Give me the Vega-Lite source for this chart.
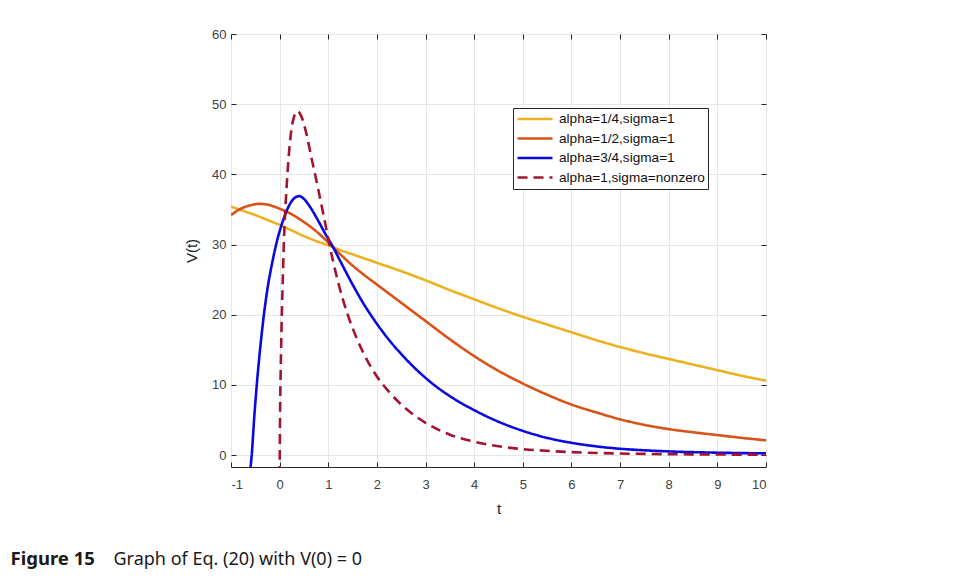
{
  "$schema": "https://vega.github.io/schema/vega-lite/v6.json",
  "width": 535,
  "height": 433,
  "autosize": {"type": "none"},
  "padding": {"left": 231, "top": 34, "right": 190, "bottom": 120},
  "background": "white",
  "config": {
    "view": {"stroke": "#262626", "strokeWidth": 1},
    "axis": {
      "labelFont": "Liberation Sans",
      "titleFont": "Liberation Sans",
      "labelFontSize": 13,
      "labelColor": "#404040",
      "titleColor": "#262626",
      "titleFontSize": 15,
      "titleFontWeight": "normal",
      "gridColor": "#e6e6e6",
      "tickColor": "#262626",
      "domainColor": "#262626"
    }
  },
  "data": {
    "values": [
      {"s": "alpha=1/4,sigma=1", "t": -1, "v": 35.4},
      {"s": "alpha=1/4,sigma=1", "t": -0.75, "v": 34.8},
      {"s": "alpha=1/4,sigma=1", "t": -0.5, "v": 34.2},
      {"s": "alpha=1/4,sigma=1", "t": -0.25, "v": 33.5},
      {"s": "alpha=1/4,sigma=1", "t": 0, "v": 32.8},
      {"s": "alpha=1/4,sigma=1", "t": 0.25, "v": 32.0},
      {"s": "alpha=1/4,sigma=1", "t": 0.5, "v": 31.2},
      {"s": "alpha=1/4,sigma=1", "t": 0.75, "v": 30.5},
      {"s": "alpha=1/4,sigma=1", "t": 1, "v": 29.9},
      {"s": "alpha=1/4,sigma=1", "t": 1.25, "v": 29.2},
      {"s": "alpha=1/4,sigma=1", "t": 1.5, "v": 28.6},
      {"s": "alpha=1/4,sigma=1", "t": 2, "v": 27.4},
      {"s": "alpha=1/4,sigma=1", "t": 2.5, "v": 26.2},
      {"s": "alpha=1/4,sigma=1", "t": 3, "v": 24.9},
      {"s": "alpha=1/4,sigma=1", "t": 3.5, "v": 23.5},
      {"s": "alpha=1/4,sigma=1", "t": 4, "v": 22.2},
      {"s": "alpha=1/4,sigma=1", "t": 4.5, "v": 20.9},
      {"s": "alpha=1/4,sigma=1", "t": 5, "v": 19.7},
      {"s": "alpha=1/4,sigma=1", "t": 5.5, "v": 18.6},
      {"s": "alpha=1/4,sigma=1", "t": 6, "v": 17.5},
      {"s": "alpha=1/4,sigma=1", "t": 6.5, "v": 16.4},
      {"s": "alpha=1/4,sigma=1", "t": 7, "v": 15.4},
      {"s": "alpha=1/4,sigma=1", "t": 7.5, "v": 14.5},
      {"s": "alpha=1/4,sigma=1", "t": 8, "v": 13.7},
      {"s": "alpha=1/4,sigma=1", "t": 8.5, "v": 12.9},
      {"s": "alpha=1/4,sigma=1", "t": 9, "v": 12.1},
      {"s": "alpha=1/4,sigma=1", "t": 9.5, "v": 11.3},
      {"s": "alpha=1/4,sigma=1", "t": 10, "v": 10.6},

      {"s": "alpha=1/2,sigma=1", "t": -1, "v": 34.2},
      {"s": "alpha=1/2,sigma=1", "t": -0.8, "v": 35.1},
      {"s": "alpha=1/2,sigma=1", "t": -0.6, "v": 35.6},
      {"s": "alpha=1/2,sigma=1", "t": -0.4, "v": 35.8},
      {"s": "alpha=1/2,sigma=1", "t": -0.2, "v": 35.6},
      {"s": "alpha=1/2,sigma=1", "t": 0, "v": 35.1},
      {"s": "alpha=1/2,sigma=1", "t": 0.25, "v": 34.3},
      {"s": "alpha=1/2,sigma=1", "t": 0.5, "v": 33.2},
      {"s": "alpha=1/2,sigma=1", "t": 0.75, "v": 31.9},
      {"s": "alpha=1/2,sigma=1", "t": 1, "v": 30.3},
      {"s": "alpha=1/2,sigma=1", "t": 1.25, "v": 28.6},
      {"s": "alpha=1/2,sigma=1", "t": 1.5, "v": 27.0},
      {"s": "alpha=1/2,sigma=1", "t": 1.75, "v": 25.6},
      {"s": "alpha=1/2,sigma=1", "t": 2, "v": 24.3},
      {"s": "alpha=1/2,sigma=1", "t": 2.5, "v": 21.7},
      {"s": "alpha=1/2,sigma=1", "t": 3, "v": 19.1},
      {"s": "alpha=1/2,sigma=1", "t": 3.5, "v": 16.5},
      {"s": "alpha=1/2,sigma=1", "t": 4, "v": 14.1},
      {"s": "alpha=1/2,sigma=1", "t": 4.5, "v": 12.0},
      {"s": "alpha=1/2,sigma=1", "t": 5, "v": 10.2},
      {"s": "alpha=1/2,sigma=1", "t": 5.5, "v": 8.6},
      {"s": "alpha=1/2,sigma=1", "t": 6, "v": 7.2},
      {"s": "alpha=1/2,sigma=1", "t": 6.5, "v": 6.1},
      {"s": "alpha=1/2,sigma=1", "t": 7, "v": 5.1},
      {"s": "alpha=1/2,sigma=1", "t": 7.5, "v": 4.3},
      {"s": "alpha=1/2,sigma=1", "t": 8, "v": 3.7},
      {"s": "alpha=1/2,sigma=1", "t": 8.5, "v": 3.25},
      {"s": "alpha=1/2,sigma=1", "t": 9, "v": 2.85},
      {"s": "alpha=1/2,sigma=1", "t": 9.5, "v": 2.45},
      {"s": "alpha=1/2,sigma=1", "t": 10, "v": 2.1},

      {"s": "alpha=3/4,sigma=1", "t": -0.62, "v": -3},
      {"s": "alpha=3/4,sigma=1", "t": -0.574, "v": 0},
      {"s": "alpha=3/4,sigma=1", "t": -0.52, "v": 5.6},
      {"s": "alpha=3/4,sigma=1", "t": -0.47, "v": 10},
      {"s": "alpha=3/4,sigma=1", "t": -0.4, "v": 15.2},
      {"s": "alpha=3/4,sigma=1", "t": -0.327, "v": 19.8},
      {"s": "alpha=3/4,sigma=1", "t": -0.25, "v": 23.7},
      {"s": "alpha=3/4,sigma=1", "t": -0.15, "v": 27.5},
      {"s": "alpha=3/4,sigma=1", "t": -0.072, "v": 30},
      {"s": "alpha=3/4,sigma=1", "t": 0, "v": 31.9},
      {"s": "alpha=3/4,sigma=1", "t": 0.064, "v": 33.3},
      {"s": "alpha=3/4,sigma=1", "t": 0.15, "v": 34.9},
      {"s": "alpha=3/4,sigma=1", "t": 0.3, "v": 36.6},
      {"s": "alpha=3/4,sigma=1", "t": 0.4, "v": 36.9},
      {"s": "alpha=3/4,sigma=1", "t": 0.5, "v": 36.5},
      {"s": "alpha=3/4,sigma=1", "t": 0.65, "v": 35.1},
      {"s": "alpha=3/4,sigma=1", "t": 0.8, "v": 33.3},
      {"s": "alpha=3/4,sigma=1", "t": 0.95, "v": 31.4},
      {"s": "alpha=3/4,sigma=1", "t": 1.1, "v": 29.6},
      {"s": "alpha=3/4,sigma=1", "t": 1.25, "v": 27.6},
      {"s": "alpha=3/4,sigma=1", "t": 1.5, "v": 24.3},
      {"s": "alpha=3/4,sigma=1", "t": 1.75, "v": 21.3},
      {"s": "alpha=3/4,sigma=1", "t": 2, "v": 18.7},
      {"s": "alpha=3/4,sigma=1", "t": 2.25, "v": 16.4},
      {"s": "alpha=3/4,sigma=1", "t": 2.5, "v": 14.4},
      {"s": "alpha=3/4,sigma=1", "t": 2.75, "v": 12.6},
      {"s": "alpha=3/4,sigma=1", "t": 3, "v": 11.0},
      {"s": "alpha=3/4,sigma=1", "t": 3.25, "v": 9.6},
      {"s": "alpha=3/4,sigma=1", "t": 3.5, "v": 8.4},
      {"s": "alpha=3/4,sigma=1", "t": 4, "v": 6.4},
      {"s": "alpha=3/4,sigma=1", "t": 4.5, "v": 4.75},
      {"s": "alpha=3/4,sigma=1", "t": 5, "v": 3.45},
      {"s": "alpha=3/4,sigma=1", "t": 5.5, "v": 2.45},
      {"s": "alpha=3/4,sigma=1", "t": 6, "v": 1.75},
      {"s": "alpha=3/4,sigma=1", "t": 6.5, "v": 1.25},
      {"s": "alpha=3/4,sigma=1", "t": 7, "v": 0.9},
      {"s": "alpha=3/4,sigma=1", "t": 7.5, "v": 0.68},
      {"s": "alpha=3/4,sigma=1", "t": 8, "v": 0.52},
      {"s": "alpha=3/4,sigma=1", "t": 9, "v": 0.34},
      {"s": "alpha=3/4,sigma=1", "t": 10, "v": 0.24},

      {"s": "alpha=1,sigma=nonzero", "t": 0, "v": -3},
      {"s": "alpha=1,sigma=nonzero", "t": 0.008, "v": 5},
      {"s": "alpha=1,sigma=nonzero", "t": 0.017, "v": 10},
      {"s": "alpha=1,sigma=nonzero", "t": 0.03, "v": 15},
      {"s": "alpha=1,sigma=nonzero", "t": 0.045, "v": 20},
      {"s": "alpha=1,sigma=nonzero", "t": 0.065, "v": 25},
      {"s": "alpha=1,sigma=nonzero", "t": 0.085, "v": 30},
      {"s": "alpha=1,sigma=nonzero", "t": 0.11, "v": 34},
      {"s": "alpha=1,sigma=nonzero", "t": 0.14, "v": 37.8},
      {"s": "alpha=1,sigma=nonzero", "t": 0.18, "v": 42},
      {"s": "alpha=1,sigma=nonzero", "t": 0.24, "v": 46.3},
      {"s": "alpha=1,sigma=nonzero", "t": 0.3, "v": 48.3},
      {"s": "alpha=1,sigma=nonzero", "t": 0.37, "v": 49.0},
      {"s": "alpha=1,sigma=nonzero", "t": 0.45, "v": 48.2},
      {"s": "alpha=1,sigma=nonzero", "t": 0.55, "v": 45.8},
      {"s": "alpha=1,sigma=nonzero", "t": 0.65, "v": 42.5},
      {"s": "alpha=1,sigma=nonzero", "t": 0.79, "v": 38.0},
      {"s": "alpha=1,sigma=nonzero", "t": 0.92, "v": 33.6},
      {"s": "alpha=1,sigma=nonzero", "t": 1, "v": 30.8},
      {"s": "alpha=1,sigma=nonzero", "t": 1.2, "v": 24.7},
      {"s": "alpha=1,sigma=nonzero", "t": 1.4, "v": 20},
      {"s": "alpha=1,sigma=nonzero", "t": 1.6, "v": 16.4},
      {"s": "alpha=1,sigma=nonzero", "t": 1.8, "v": 13.5},
      {"s": "alpha=1,sigma=nonzero", "t": 2, "v": 11.2},
      {"s": "alpha=1,sigma=nonzero", "t": 2.25, "v": 9.0},
      {"s": "alpha=1,sigma=nonzero", "t": 2.5, "v": 7.2},
      {"s": "alpha=1,sigma=nonzero", "t": 3, "v": 4.6},
      {"s": "alpha=1,sigma=nonzero", "t": 3.5, "v": 2.9},
      {"s": "alpha=1,sigma=nonzero", "t": 4, "v": 1.9},
      {"s": "alpha=1,sigma=nonzero", "t": 4.5, "v": 1.25},
      {"s": "alpha=1,sigma=nonzero", "t": 5, "v": 0.85},
      {"s": "alpha=1,sigma=nonzero", "t": 5.5, "v": 0.6},
      {"s": "alpha=1,sigma=nonzero", "t": 6, "v": 0.42},
      {"s": "alpha=1,sigma=nonzero", "t": 7, "v": 0.22},
      {"s": "alpha=1,sigma=nonzero", "t": 8, "v": 0.13},
      {"s": "alpha=1,sigma=nonzero", "t": 9, "v": 0.08},
      {"s": "alpha=1,sigma=nonzero", "t": 10, "v": 0.05}
    ]
  },
  "layer": [
    {
      "mark": {"type": "line", "strokeWidth": 2.6, "clip": true, "interpolate": "monotone"},
      "encoding": {
        "x": {
          "field": "t", "type": "quantitative",
          "scale": {"domain": [-1, 10], "nice": false, "zero": false},
          "axis": {"values": [-1,0,1,2,3,4,5,6,7,8,9,10], "labelExpr": "datum.value < 0 ? '-' + abs(datum.value) : '' + datum.value", "title": "t", "tickSize": -5, "labelPadding": 16, "titlePadding": 10, "grid": true, "domain": false}
        },
        "y": {
          "field": "v", "type": "quantitative",
          "scale": {"domain": [-1.7, 60], "nice": false, "zero": false},
          "axis": {"values": [0,10,20,30,40,50,60], "title": "V(t)", "tickSize": -5, "labelPadding": 10, "titlePadding": 12, "grid": true, "domain": false}
        },
        "color": {
          "field": "s", "type": "nominal",
          "scale": {"domain": ["alpha=1/4,sigma=1", "alpha=1/2,sigma=1", "alpha=3/4,sigma=1", "alpha=1,sigma=nonzero"], "range": ["#EDB120", "#D95319", "#0a0ae0", "#A2142F"]},
          "legend": {"title": null, "orient": "none", "legendX": 282, "legendY": 74, "symbolType": "stroke", "symbolSize": 1225, "symbolStrokeWidth": 2.5, "clipHeight": 16, "rowPadding": 3.5, "padding": 3, "labelOffset": 5, "labelFont": "Liberation Sans", "labelFontSize": 13.6, "labelColor": "#111111", "strokeColor": "#262626", "fillColor": "white"}
        },
        "strokeDash": {
          "field": "s", "type": "nominal",
          "scale": {"domain": ["alpha=1/4,sigma=1", "alpha=1/2,sigma=1", "alpha=3/4,sigma=1", "alpha=1,sigma=nonzero"], "range": [[1, 0], [1, 0], [1, 0], [10, 6]]},
          "legend": {"title": null, "orient": "none", "legendX": 282, "legendY": 74, "symbolType": "stroke", "symbolSize": 1225, "symbolStrokeWidth": 2.5, "clipHeight": 16, "rowPadding": 3.5, "padding": 3, "labelOffset": 5, "labelFont": "Liberation Sans", "labelFontSize": 13.6, "labelColor": "#111111", "strokeColor": "#262626", "fillColor": "white"}
        }
      }
    },
    {
      "mark": {"type": "line", "opacity": 0, "clip": true},
      "encoding": {
        "x": {"field": "t", "type": "quantitative", "axis": {"orient": "top", "values": [-1,0,1,2,3,4,5,6,7,8,9,10], "labels": false, "title": "Graph of Eq. (20) with V(0) = 0", "titleX": -118, "titleY": 530, "titleAngle": 0, "titleAlign": "left", "titleBaseline": "alphabetic", "titleFont": "Noto Sans", "titleFontSize": 18, "titleFontWeight": "normal", "titleColor": "#1a1a1a", "tickSize": -5, "grid": false, "domain": false}},
        "y": {"field": "v", "type": "quantitative", "axis": {"orient": "right", "values": [0,10,20,30,40,50,60], "labels": false, "title": "Figure 15", "titleX": -756, "titleY": 530, "titleAngle": 0, "titleAlign": "left", "titleBaseline": "alphabetic", "titleFont": "Noto Sans", "titleFontSize": 18.5, "titleFontWeight": "bold", "titleColor": "#1a1a1a", "tickSize": -5, "grid": false, "domain": false}},
        "detail": {"field": "s"}
      }
    }
  ],
  "resolve": {"axis": {"x": "independent", "y": "independent"}}
}
